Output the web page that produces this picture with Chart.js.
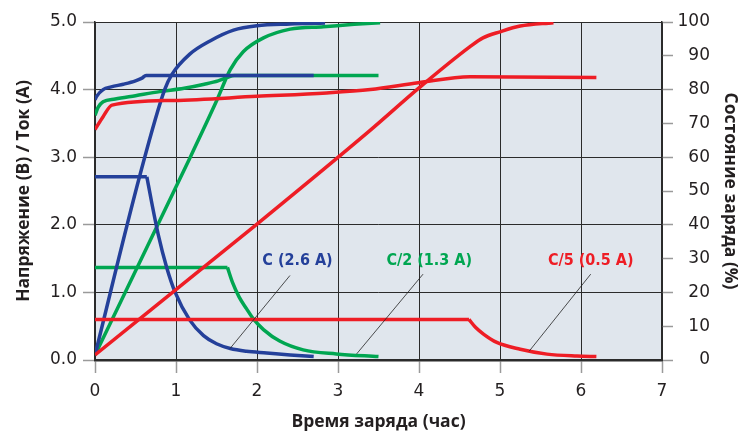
<!DOCTYPE html>
<html>
<head>
<meta charset="utf-8">
<script src="https://cdn.jsdelivr.net/npm/chart.js@4.4.1/dist/chart.umd.min.js"></script>
<style>
html, body { margin: 0; padding: 0; background: #fff; }
#wrap { width: 747px; height: 431px; position: relative; }
</style>
</head>
<body>
<div id="wrap"><canvas id="chart"></canvas></div>
<script>
// ---- data (time in hours) ----
// C (2.6 A)
var blueVoltT = [0, 0.02, 0.1, 0.2, 0.35, 0.5, 0.58, 0.63, 2.7];
var blueVolt  = [3.85, 3.9, 4.0, 4.04, 4.08, 4.13, 4.17, 4.21, 4.21];
var blueCurrT = [0, 0.64, 0.70, 0.78, 0.885, 0.99, 1.17, 1.34, 1.50, 1.67, 1.87, 2.12, 2.41, 2.7];
var blueCurr  = [2.71, 2.71, 2.33, 1.86, 1.37, 1.0, 0.59, 0.36, 0.24, 0.17, 0.13, 0.105, 0.075, 0.05];
var blueSocT  = [0, 0.556, 0.86, 0.95, 1.17, 1.42, 1.71, 2.0, 2.41, 2.84];
var blueSoc   = [1.5, 54.8, 80, 84.5, 90.5, 94.4, 97.6, 98.9, 99.4, 99.7];

// C/2 (1.3 A)
var greenVoltT = [0, 0.04, 0.1, 0.25, 0.5, 0.8, 1.1, 1.35, 1.52, 1.63, 1.72, 3.5];
var greenVolt  = [3.62, 3.74, 3.82, 3.86, 3.91, 3.97, 4.02, 4.08, 4.13, 4.18, 4.21, 4.21];
var greenCurrT = [0, 1.635, 1.70, 1.78, 1.87, 1.96, 2.08, 2.28, 2.57, 2.98, 3.5];
var greenCurr  = [1.37, 1.37, 1.14, 0.93, 0.76, 0.6, 0.45, 0.28, 0.15, 0.09, 0.05];
var greenSocT  = [0, 1.13, 1.5, 1.67, 1.83, 2.08, 2.41, 2.82, 3.2, 3.52];
var greenSoc   = [1.5, 57.7, 76.6, 85.9, 91.2, 95.3, 97.9, 98.6, 99.3, 99.8];

// C/5 (0.5 A)
var redVoltT = [0, 0.1, 0.21, 0.97, 2.0, 2.86, 3.4, 3.99, 4.63, 6.19];
var redVolt  = [3.41, 3.6, 3.77, 3.84, 3.9, 3.95, 4.0, 4.1, 4.19, 4.18];
var redCurrT = [0, 4.617, 4.7, 4.8, 4.96, 5.25, 5.58, 5.95, 6.19];
var redCurr  = [0.6, 0.6, 0.48, 0.38, 0.26, 0.16, 0.087, 0.058, 0.05];
var redSocT  = [0, 2.0, 3.4, 4.0, 4.63, 4.79, 5.0, 5.25, 5.66];
var redSoc   = [1.5, 40.2, 68, 80.5, 92.7, 95.3, 97.1, 98.8, 99.8];

var xTicks = [0, 1, 2, 3, 4, 5, 6, 7];

// callouts: text, label anchor, leader line start/end (data units)
var callouts = [
  { text: 'C (2.6 A)',   color: '#24409a', lx: 2.5,  ly: 1.47, x1: 2.407, y1: 1.25, x2: 1.667, y2: 0.17 },
  { text: 'C/2 (1.3 A)', color: '#00a651', lx: 4.126, ly: 1.47, x1: 4.05, y1: 1.27, x2: 3.23, y2: 0.09 },
  { text: 'C/5 (0.5 A)', color: '#ee1d25', lx: 6.12, ly: 1.47, x1: 6.12, y1: 1.27, x2: 5.36, y2: 0.13 }
];

var BLUE = '#24409a', GREEN = '#00a651', RED = '#ee1d25';

function pts(t, v, from, to) {
  var out = [];
  from = from || 0;
  to = (to === undefined) ? t.length : to;
  for (var i = from; i < to; i++) out.push({ x: t[i], y: v[i] });
  return out;
}

function line(data, color, axis, straight) {
  return {
    data: data,
    borderColor: color,
    borderWidth: 3.5,
    pointRadius: 0,
    fill: false,
    tension: 0,
    cubicInterpolationMode: straight ? 'default' : 'monotone',
    yAxisID: axis,
    borderCapStyle: 'butt',
    borderJoinStyle: 'round'
  };
}

// current curves: flat part (first two points) + smooth decay from the corner
function current(t, v, color) {
  return [line(pts(t, v, 0, 2), color, 'y', true), line(pts(t, v, 1), color, 'y')];
}

var plotBg = {
  id: 'plotBg',
  beforeDraw: function (chart) {
    var a = chart.chartArea, ctx = chart.ctx;
    ctx.save();
    ctx.fillStyle = '#e0e6ed';
    ctx.fillRect(a.left, a.top, a.right - a.left, a.bottom - a.top);
    ctx.restore();
  }
};

var calloutPlugin = {
  id: 'callouts',
  afterDatasetsDraw: function (chart) {
    var ctx = chart.ctx, sx = chart.scales.x, sy = chart.scales.y;
    ctx.save();
    callouts.forEach(function (c) {
      ctx.beginPath();
      ctx.strokeStyle = '#222';
      ctx.lineWidth = 0.8;
      ctx.moveTo(sx.getPixelForValue(c.x1), sy.getPixelForValue(c.y1));
      ctx.lineTo(sx.getPixelForValue(c.x2), sy.getPixelForValue(c.y2));
      ctx.stroke();
      ctx.fillStyle = c.color;
      ctx.font = 'bold 16px "DejaVu Sans Condensed", "DejaVu Sans", sans-serif';
      ctx.textAlign = 'center';
      ctx.textBaseline = 'middle';
      ctx.fillText(c.text, sx.getPixelForValue(c.lx), sy.getPixelForValue(c.ly));
    });
    ctx.restore();
  }
};

var tickFont = { family: 'DejaVu Sans', size: 17 };
var titleFont = { family: 'Open Sans', size: 17.5, weight: 'bold' };
var ink = '#231f20';

// first dataset is painted on top: red, then blue, then green
var datasets = [].concat(
  current(redCurrT, redCurr, RED),
  [line(pts(redVoltT, redVolt), RED, 'y'), line(pts(redSocT, redSoc), RED, 'y1')],
  current(blueCurrT, blueCurr, BLUE),
  [line(pts(blueVoltT, blueVolt), BLUE, 'y'), line(pts(blueSocT, blueSoc), BLUE, 'y1')],
  current(greenCurrT, greenCurr, GREEN),
  [line(pts(greenVoltT, greenVolt), GREEN, 'y'), line(pts(greenSocT, greenSoc), GREEN, 'y1')]
);

new Chart(document.getElementById('chart'), {
  type: 'line',
  data: { datasets: datasets },
  options: {
    responsive: true,
    maintainAspectRatio: false,
    devicePixelRatio: 1,
    animation: false,
    layout: { padding: { top: 22, left: 0, right: 37, bottom: 0 } },
    plugins: { legend: { display: false }, tooltip: { enabled: false } },
    scales: {
      x: {
        type: 'linear',
        min: 0, max: 7,
        afterBuildTicks: function (s) { s.ticks = xTicks.map(function (v) { return { value: v }; }); },
        ticks: { font: tickFont, color: ink, padding: 8 },
        grid: { color: '#2b2b2b', lineWidth: 1, tickLength: 13, tickColor: '#9a9a9a', tickWidth: 1.5 },
        border: { color: '#2b2b2b', width: 2.5 },
        title: { display: true, text: 'Время заряда (час)', font: titleFont, color: ink, padding: { top: 0, bottom: -2 } },
        afterFit: function (s) { s.height = 71; }
      },
      y: {
        position: 'left',
        min: 0, max: 5,
        ticks: { stepSize: 1, font: tickFont, color: ink, padding: 6, callback: function (v) { return v.toFixed(1); } },
        grid: { color: '#2b2b2b', lineWidth: 1, tickLength: 12, tickColor: '#9a9a9a', tickWidth: 1.5 },
        border: { color: '#2b2b2b', width: 1.5 },
        title: { display: true, text: 'Напряжение (В) / Ток (А)', font: titleFont, color: ink, padding: { top: 13.5 } },
        afterFit: function (s) { s.width = 95; }
      },
      y1: {
        position: 'right',
        min: 0, max: 100,
        ticks: { stepSize: 10, font: tickFont, color: ink, padding: 5, crossAlign: 'far' },
        grid: { drawOnChartArea: false, tickLength: 11, tickColor: '#9a9a9a', tickWidth: 1.5 },
        border: { color: '#2b2b2b', width: 1.5 },
        title: { display: true, text: 'Состояние заряда (%)', font: titleFont, color: ink, padding: { top: -30.5 } },
        afterFit: function (s) { s.width = 48; }
      }
    }
  },
  plugins: [plotBg, calloutPlugin]
});
</script>
</body>
</html>
